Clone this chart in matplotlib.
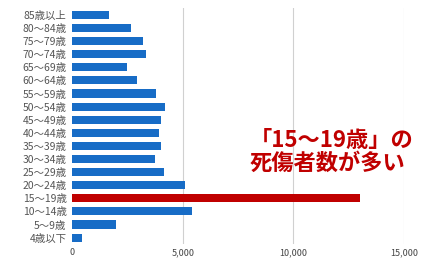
import matplotlib
matplotlib.use("Agg")
import matplotlib.pyplot as plt

plt.rcParams['font.family'] = ['Noto Sans CJK JP', 'DejaVu Sans']

categories = ["85歳以上", "80〜84歳", "75〜79歳", "70〜74歳", "65〜69歳", "60〜64歳",
              "55〜59歳", "50〜54歳", "45〜49歳", "40〜44歳", "35〜39歳", "30〜34歳",
              "25〜29歳", "20〜24歳", "15〜19歳", "10〜14歳", "5〜9歳", "4歳以下"]
values = [1690, 2670, 3200, 3340, 2460, 2930, 3780, 4210, 4020, 3910, 4020, 3760,
          4150, 5090, 13020, 5440, 1980, 450]
highlight = "15〜19歳"
xticks = [0, 5000, 10000, 15000]
xticklabels = ["0", "5,000", "10,000", "15,000"]
annotation = "「15〜19歳」の\n死傷者数が多い"

fig = plt.figure(figsize=(4.29, 2.62), dpi=100)
ax = fig.add_axes([0.168, 0.068, 0.774, 0.90])

ypos = list(range(len(categories)))
colors = ["#c00000" if c == highlight else "#176cc6" for c in categories]
ax.barh(ypos, values, height=0.62, color=colors, zorder=3)
ax.set_ylim(len(categories) - 0.5, -0.5)
ax.set_yticks(ypos)
ax.set_yticklabels(categories, fontsize=7.5, color="#555555")
ax.set_xlim(0, 15000)
ax.set_xticks(xticks)
ax.set_xticklabels(xticklabels, fontsize=6.5, color="#444444")
ax.tick_params(axis='both', length=0)
ax.tick_params(axis='y', pad=4)
ax.tick_params(axis='x', pad=3)
for s in ax.spines.values():
    s.set_visible(False)
for x in xticks[1:]:
    ax.axvline(x, color="#d0d0d0", lw=0.8, zorder=1)

ax.text(250 / 429, 1 - 152 / 262, annotation, transform=fig.transFigure,
        fontsize=16, fontweight='bold', color="#c00000", ha='left', va='center',
        linespacing=0.95)

fig.savefig("out.png", dpi=100)
